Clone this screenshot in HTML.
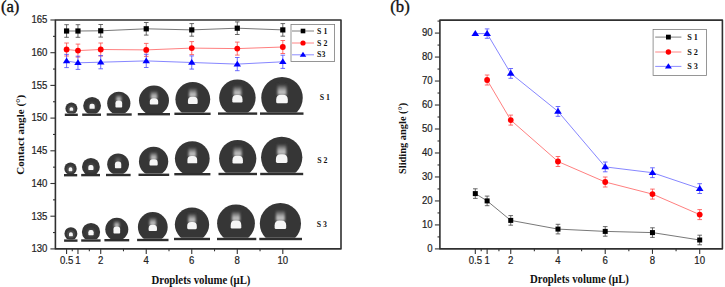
<!DOCTYPE html>
<html><head><meta charset="utf-8"><title>Contact and sliding angle</title>
<style>html,body{margin:0;padding:0;background:#fff;}body{width:725px;height:287px;overflow:hidden;}svg{display:block;}</style>
</head><body>
<svg width="725" height="287" viewBox="0 0 725 287">
<defs>
<linearGradient id="glow" x1="0" y1="1" x2="0" y2="0"><stop offset="0" stop-color="#909090"/><stop offset="0.3" stop-color="#c8c8c8"/><stop offset="0.6" stop-color="#8e8e8e"/><stop offset="1" stop-color="#363636"/></linearGradient>
<filter id="bl" x="-50%" y="-50%" width="200%" height="200%"><feGaussianBlur stdDeviation="0.9"/></filter>
<filter id="bl2" x="-50%" y="-50%" width="200%" height="200%"><feGaussianBlur stdDeviation="0.35"/></filter>
<filter id="bl3" x="-50%" y="-50%" width="200%" height="200%"><feGaussianBlur stdDeviation="0.2"/></filter>
</defs>
<rect width="725" height="287" fill="#fff"/>
<text transform="translate(0.9,12.3) scale(1.03,1.03)" font-family="'Liberation Serif', serif" font-size="16.2" fill="#111" stroke="#111" stroke-width="0.35">(a)</text>
<text transform="translate(390.3,12.3) scale(1.03,1.03)" font-family="'Liberation Serif', serif" font-size="16.2" fill="#111" stroke="#111" stroke-width="0.35">(b)</text>
<line x1="50.40" y1="248.90" x2="55.40" y2="248.90" stroke="#333" stroke-width="1.1"/>
<line x1="50.40" y1="216.20" x2="55.40" y2="216.20" stroke="#333" stroke-width="1.1"/>
<line x1="50.40" y1="183.50" x2="55.40" y2="183.50" stroke="#333" stroke-width="1.1"/>
<line x1="50.40" y1="150.80" x2="55.40" y2="150.80" stroke="#333" stroke-width="1.1"/>
<line x1="50.40" y1="118.10" x2="55.40" y2="118.10" stroke="#333" stroke-width="1.1"/>
<line x1="50.40" y1="85.40" x2="55.40" y2="85.40" stroke="#333" stroke-width="1.1"/>
<line x1="50.40" y1="52.70" x2="55.40" y2="52.70" stroke="#333" stroke-width="1.1"/>
<line x1="50.40" y1="20.00" x2="55.40" y2="20.00" stroke="#333" stroke-width="1.1"/>
<line x1="53.00" y1="232.55" x2="55.40" y2="232.55" stroke="#333" stroke-width="1.1"/>
<line x1="53.00" y1="199.85" x2="55.40" y2="199.85" stroke="#333" stroke-width="1.1"/>
<line x1="53.00" y1="167.15" x2="55.40" y2="167.15" stroke="#333" stroke-width="1.1"/>
<line x1="53.00" y1="134.45" x2="55.40" y2="134.45" stroke="#333" stroke-width="1.1"/>
<line x1="53.00" y1="101.75" x2="55.40" y2="101.75" stroke="#333" stroke-width="1.1"/>
<line x1="53.00" y1="69.05" x2="55.40" y2="69.05" stroke="#333" stroke-width="1.1"/>
<line x1="53.00" y1="36.35" x2="55.40" y2="36.35" stroke="#333" stroke-width="1.1"/>
<text transform="translate(47.40,252.25) scale(1,1.09)" text-anchor="end" font-family="'Liberation Sans', sans-serif" font-size="9.6" fill="#222" stroke="#222" stroke-width="0.18">130</text>
<text transform="translate(47.40,219.55) scale(1,1.09)" text-anchor="end" font-family="'Liberation Sans', sans-serif" font-size="9.6" fill="#222" stroke="#222" stroke-width="0.18">135</text>
<text transform="translate(47.40,186.85) scale(1,1.09)" text-anchor="end" font-family="'Liberation Sans', sans-serif" font-size="9.6" fill="#222" stroke="#222" stroke-width="0.18">140</text>
<text transform="translate(47.40,154.15) scale(1,1.09)" text-anchor="end" font-family="'Liberation Sans', sans-serif" font-size="9.6" fill="#222" stroke="#222" stroke-width="0.18">145</text>
<text transform="translate(47.40,121.45) scale(1,1.09)" text-anchor="end" font-family="'Liberation Sans', sans-serif" font-size="9.6" fill="#222" stroke="#222" stroke-width="0.18">150</text>
<text transform="translate(47.40,88.75) scale(1,1.09)" text-anchor="end" font-family="'Liberation Sans', sans-serif" font-size="9.6" fill="#222" stroke="#222" stroke-width="0.18">155</text>
<text transform="translate(47.40,56.05) scale(1,1.09)" text-anchor="end" font-family="'Liberation Sans', sans-serif" font-size="9.6" fill="#222" stroke="#222" stroke-width="0.18">160</text>
<text transform="translate(47.40,23.35) scale(1,1.09)" text-anchor="end" font-family="'Liberation Sans', sans-serif" font-size="9.6" fill="#222" stroke="#222" stroke-width="0.18">165</text>
<line x1="66.58" y1="248.90" x2="66.58" y2="253.90" stroke="#333" stroke-width="1.1"/>
<line x1="77.96" y1="248.90" x2="77.96" y2="253.90" stroke="#333" stroke-width="1.1"/>
<line x1="100.72" y1="248.90" x2="100.72" y2="253.90" stroke="#333" stroke-width="1.1"/>
<line x1="146.24" y1="248.90" x2="146.24" y2="253.90" stroke="#333" stroke-width="1.1"/>
<line x1="191.76" y1="248.90" x2="191.76" y2="253.90" stroke="#333" stroke-width="1.1"/>
<line x1="237.28" y1="248.90" x2="237.28" y2="253.90" stroke="#333" stroke-width="1.1"/>
<line x1="282.80" y1="248.90" x2="282.80" y2="253.90" stroke="#333" stroke-width="1.1"/>
<line x1="72.27" y1="248.90" x2="72.27" y2="251.30" stroke="#333" stroke-width="1.1"/>
<line x1="89.34" y1="248.90" x2="89.34" y2="251.30" stroke="#333" stroke-width="1.1"/>
<line x1="123.48" y1="248.90" x2="123.48" y2="251.30" stroke="#333" stroke-width="1.1"/>
<line x1="169.00" y1="248.90" x2="169.00" y2="251.30" stroke="#333" stroke-width="1.1"/>
<line x1="214.52" y1="248.90" x2="214.52" y2="251.30" stroke="#333" stroke-width="1.1"/>
<line x1="260.04" y1="248.90" x2="260.04" y2="251.30" stroke="#333" stroke-width="1.1"/>
<text transform="translate(66.58,264.00) scale(1,1.09)" text-anchor="middle" font-family="'Liberation Sans', sans-serif" font-size="9.6" fill="#222" stroke="#222" stroke-width="0.18">0.5</text>
<text transform="translate(77.96,264.00) scale(1,1.09)" text-anchor="middle" font-family="'Liberation Sans', sans-serif" font-size="9.6" fill="#222" stroke="#222" stroke-width="0.18">1</text>
<text transform="translate(100.72,264.00) scale(1,1.09)" text-anchor="middle" font-family="'Liberation Sans', sans-serif" font-size="9.6" fill="#222" stroke="#222" stroke-width="0.18">2</text>
<text transform="translate(146.24,264.00) scale(1,1.09)" text-anchor="middle" font-family="'Liberation Sans', sans-serif" font-size="9.6" fill="#222" stroke="#222" stroke-width="0.18">4</text>
<text transform="translate(191.76,264.00) scale(1,1.09)" text-anchor="middle" font-family="'Liberation Sans', sans-serif" font-size="9.6" fill="#222" stroke="#222" stroke-width="0.18">6</text>
<text transform="translate(237.28,264.00) scale(1,1.09)" text-anchor="middle" font-family="'Liberation Sans', sans-serif" font-size="9.6" fill="#222" stroke="#222" stroke-width="0.18">8</text>
<text transform="translate(282.80,264.00) scale(1,1.09)" text-anchor="middle" font-family="'Liberation Sans', sans-serif" font-size="9.6" fill="#222" stroke="#222" stroke-width="0.18">10</text>
<line x1="434.90" y1="248.90" x2="439.90" y2="248.90" stroke="#333" stroke-width="1.1"/>
<line x1="434.90" y1="224.92" x2="439.90" y2="224.92" stroke="#333" stroke-width="1.1"/>
<line x1="434.90" y1="200.94" x2="439.90" y2="200.94" stroke="#333" stroke-width="1.1"/>
<line x1="434.90" y1="176.96" x2="439.90" y2="176.96" stroke="#333" stroke-width="1.1"/>
<line x1="434.90" y1="152.98" x2="439.90" y2="152.98" stroke="#333" stroke-width="1.1"/>
<line x1="434.90" y1="129.00" x2="439.90" y2="129.00" stroke="#333" stroke-width="1.1"/>
<line x1="434.90" y1="105.02" x2="439.90" y2="105.02" stroke="#333" stroke-width="1.1"/>
<line x1="434.90" y1="81.04" x2="439.90" y2="81.04" stroke="#333" stroke-width="1.1"/>
<line x1="434.90" y1="57.06" x2="439.90" y2="57.06" stroke="#333" stroke-width="1.1"/>
<line x1="434.90" y1="33.08" x2="439.90" y2="33.08" stroke="#333" stroke-width="1.1"/>
<line x1="437.50" y1="236.91" x2="439.90" y2="236.91" stroke="#333" stroke-width="1.1"/>
<line x1="437.50" y1="212.93" x2="439.90" y2="212.93" stroke="#333" stroke-width="1.1"/>
<line x1="437.50" y1="188.95" x2="439.90" y2="188.95" stroke="#333" stroke-width="1.1"/>
<line x1="437.50" y1="164.97" x2="439.90" y2="164.97" stroke="#333" stroke-width="1.1"/>
<line x1="437.50" y1="140.99" x2="439.90" y2="140.99" stroke="#333" stroke-width="1.1"/>
<line x1="437.50" y1="117.01" x2="439.90" y2="117.01" stroke="#333" stroke-width="1.1"/>
<line x1="437.50" y1="93.03" x2="439.90" y2="93.03" stroke="#333" stroke-width="1.1"/>
<line x1="437.50" y1="69.05" x2="439.90" y2="69.05" stroke="#333" stroke-width="1.1"/>
<line x1="437.50" y1="45.07" x2="439.90" y2="45.07" stroke="#333" stroke-width="1.1"/>
<line x1="437.50" y1="21.09" x2="439.90" y2="21.09" stroke="#333" stroke-width="1.1"/>
<text transform="translate(432.60,252.25) scale(1,1.09)" text-anchor="end" font-family="'Liberation Sans', sans-serif" font-size="9.6" fill="#222" stroke="#222" stroke-width="0.18">0</text>
<text transform="translate(432.60,228.27) scale(1,1.09)" text-anchor="end" font-family="'Liberation Sans', sans-serif" font-size="9.6" fill="#222" stroke="#222" stroke-width="0.18">10</text>
<text transform="translate(432.60,204.29) scale(1,1.09)" text-anchor="end" font-family="'Liberation Sans', sans-serif" font-size="9.6" fill="#222" stroke="#222" stroke-width="0.18">20</text>
<text transform="translate(432.60,180.31) scale(1,1.09)" text-anchor="end" font-family="'Liberation Sans', sans-serif" font-size="9.6" fill="#222" stroke="#222" stroke-width="0.18">30</text>
<text transform="translate(432.60,156.33) scale(1,1.09)" text-anchor="end" font-family="'Liberation Sans', sans-serif" font-size="9.6" fill="#222" stroke="#222" stroke-width="0.18">40</text>
<text transform="translate(432.60,132.35) scale(1,1.09)" text-anchor="end" font-family="'Liberation Sans', sans-serif" font-size="9.6" fill="#222" stroke="#222" stroke-width="0.18">50</text>
<text transform="translate(432.60,108.37) scale(1,1.09)" text-anchor="end" font-family="'Liberation Sans', sans-serif" font-size="9.6" fill="#222" stroke="#222" stroke-width="0.18">60</text>
<text transform="translate(432.60,84.39) scale(1,1.09)" text-anchor="end" font-family="'Liberation Sans', sans-serif" font-size="9.6" fill="#222" stroke="#222" stroke-width="0.18">70</text>
<text transform="translate(432.60,60.41) scale(1,1.09)" text-anchor="end" font-family="'Liberation Sans', sans-serif" font-size="9.6" fill="#222" stroke="#222" stroke-width="0.18">80</text>
<text transform="translate(432.60,36.43) scale(1,1.09)" text-anchor="end" font-family="'Liberation Sans', sans-serif" font-size="9.6" fill="#222" stroke="#222" stroke-width="0.18">90</text>
<line x1="475.31" y1="248.90" x2="475.31" y2="253.90" stroke="#333" stroke-width="1.1"/>
<line x1="487.12" y1="248.90" x2="487.12" y2="253.90" stroke="#333" stroke-width="1.1"/>
<line x1="510.74" y1="248.90" x2="510.74" y2="253.90" stroke="#333" stroke-width="1.1"/>
<line x1="557.98" y1="248.90" x2="557.98" y2="253.90" stroke="#333" stroke-width="1.1"/>
<line x1="605.22" y1="248.90" x2="605.22" y2="253.90" stroke="#333" stroke-width="1.1"/>
<line x1="652.46" y1="248.90" x2="652.46" y2="253.90" stroke="#333" stroke-width="1.1"/>
<line x1="699.70" y1="248.90" x2="699.70" y2="253.90" stroke="#333" stroke-width="1.1"/>
<line x1="481.21" y1="248.90" x2="481.21" y2="251.30" stroke="#333" stroke-width="1.1"/>
<line x1="498.93" y1="248.90" x2="498.93" y2="251.30" stroke="#333" stroke-width="1.1"/>
<line x1="534.36" y1="248.90" x2="534.36" y2="251.30" stroke="#333" stroke-width="1.1"/>
<line x1="581.60" y1="248.90" x2="581.60" y2="251.30" stroke="#333" stroke-width="1.1"/>
<line x1="628.84" y1="248.90" x2="628.84" y2="251.30" stroke="#333" stroke-width="1.1"/>
<line x1="676.08" y1="248.90" x2="676.08" y2="251.30" stroke="#333" stroke-width="1.1"/>
<text transform="translate(475.31,264.00) scale(1,1.09)" text-anchor="middle" font-family="'Liberation Sans', sans-serif" font-size="9.6" fill="#222" stroke="#222" stroke-width="0.18">0.5</text>
<text transform="translate(487.12,264.00) scale(1,1.09)" text-anchor="middle" font-family="'Liberation Sans', sans-serif" font-size="9.6" fill="#222" stroke="#222" stroke-width="0.18">1</text>
<text transform="translate(510.74,264.00) scale(1,1.09)" text-anchor="middle" font-family="'Liberation Sans', sans-serif" font-size="9.6" fill="#222" stroke="#222" stroke-width="0.18">2</text>
<text transform="translate(557.98,264.00) scale(1,1.09)" text-anchor="middle" font-family="'Liberation Sans', sans-serif" font-size="9.6" fill="#222" stroke="#222" stroke-width="0.18">4</text>
<text transform="translate(605.22,264.00) scale(1,1.09)" text-anchor="middle" font-family="'Liberation Sans', sans-serif" font-size="9.6" fill="#222" stroke="#222" stroke-width="0.18">6</text>
<text transform="translate(652.46,264.00) scale(1,1.09)" text-anchor="middle" font-family="'Liberation Sans', sans-serif" font-size="9.6" fill="#222" stroke="#222" stroke-width="0.18">8</text>
<text transform="translate(699.70,264.00) scale(1,1.09)" text-anchor="middle" font-family="'Liberation Sans', sans-serif" font-size="9.6" fill="#222" stroke="#222" stroke-width="0.18">10</text>
<clipPath id="c1"><rect x="64.40" y="101.40" width="14.00" height="12.20"/></clipPath>
<g clip-path="url(#c1)"><circle cx="71.40" cy="108.40" r="6.00" fill="#363636"/>
<circle cx="71.40" cy="109.00" r="3.72" fill="#4a4a4a" filter="url(#bl2)"/>
<path d="M69.60 110.32 V108.76 Q69.60 107.14 71.22 107.14 H71.58 Q73.20 107.14 73.20 108.76 V110.32 Q73.20 110.86 72.66 110.86 H70.14 Q69.60 110.86 69.60 110.32 Z" fill="#f4f4f4"/>
</g>
<rect x="64.80" y="113.60" width="13.00" height="2.4" fill="#2e2e2e"/>
<clipPath id="c2"><rect x="82.20" y="95.90" width="19.80" height="17.60"/></clipPath>
<g clip-path="url(#c2)"><circle cx="92.10" cy="105.80" r="8.90" fill="#363636"/>
<circle cx="92.10" cy="106.33" r="3.87" fill="#4a4a4a" filter="url(#bl)"/>
<path d="M89.52 108.21 V106.01 Q89.52 103.84 91.69 103.84 H92.51 Q94.68 103.84 94.68 106.01 V108.21 Q94.68 108.83 94.06 108.83 H90.14 Q89.52 108.83 89.52 108.21 Z" fill="#f6f6f6" filter="url(#bl2)"/>
</g>
<rect x="82.20" y="113.50" width="18.80" height="2.4" fill="#2e2e2e"/>
<clipPath id="c3"><rect x="106.20" y="90.70" width="25.20" height="22.60"/></clipPath>
<g clip-path="url(#c3)"><circle cx="118.80" cy="103.30" r="11.60" fill="#363636"/>
<rect x="116.18" y="94.60" width="5.25" height="6.80" fill="url(#glow)" filter="url(#bl)" opacity="1.0"/>
<path d="M115.44 106.78 V103.23 Q115.44 100.40 118.26 100.40 H119.34 Q122.16 100.40 122.16 103.23 V106.78 Q122.16 107.59 121.36 107.59 H116.24 Q115.44 107.59 115.44 106.78 Z" fill="#f6f6f6" filter="url(#bl2)"/>
</g>
<rect x="106.70" y="113.30" width="25.00" height="2.4" fill="#2e2e2e"/>
<clipPath id="c4"><rect x="138.00" y="84.50" width="32.00" height="28.50"/></clipPath>
<g clip-path="url(#c4)"><circle cx="154.00" cy="100.50" r="15.00" fill="#363636"/>
<rect x="150.72" y="90.75" width="6.55" height="8.50" fill="url(#glow)" filter="url(#bl)" opacity="1.0"/>
<path d="M149.80 103.54 V101.78 Q149.80 98.25 153.33 98.25 H154.67 Q158.20 98.25 158.20 101.78 V103.54 Q158.20 104.55 157.19 104.55 H150.81 Q149.80 104.55 149.80 103.54 Z" fill="#f6f6f6" filter="url(#bl2)"/>
</g>
<rect x="137.80" y="113.00" width="32.20" height="2.4" fill="#2e2e2e"/>
<clipPath id="c5"><rect x="174.40" y="80.90" width="36.80" height="31.70"/></clipPath>
<g clip-path="url(#c5)"><circle cx="192.80" cy="99.30" r="17.40" fill="#363636"/>
<rect x="189.00" y="87.99" width="7.60" height="9.70" fill="url(#glow)" filter="url(#bl)" opacity="1.0"/>
<path d="M187.93 102.83 V100.78 Q187.93 96.69 192.02 96.69 H193.58 Q197.67 96.69 197.67 100.78 V102.83 Q197.67 104.00 196.50 104.00 H189.10 Q187.93 104.00 187.93 102.83 Z" fill="#f6f6f6" filter="url(#bl2)"/>
</g>
<rect x="174.40" y="112.60" width="36.20" height="2.4" fill="#2e2e2e"/>
<clipPath id="c6"><rect x="218.15" y="78.40" width="38.50" height="34.00"/></clipPath>
<g clip-path="url(#c6)"><circle cx="237.40" cy="97.65" r="18.25" fill="#363636"/>
<rect x="233.41" y="85.79" width="7.97" height="10.12" fill="url(#glow)" filter="url(#bl)" opacity="1.0"/>
<path d="M232.29 101.35 V99.20 Q232.29 94.91 236.58 94.91 H238.22 Q242.51 94.91 242.51 99.20 V101.35 Q242.51 102.58 241.28 102.58 H233.52 Q232.29 102.58 232.29 101.35 Z" fill="#f6f6f6" filter="url(#bl2)"/>
</g>
<rect x="218.00" y="112.40" width="39.20" height="2.4" fill="#2e2e2e"/>
<clipPath id="c7"><rect x="260.25" y="76.00" width="43.50" height="36.40"/></clipPath>
<g clip-path="url(#c7)"><circle cx="282.00" cy="97.75" r="20.75" fill="#363636"/>
<rect x="277.47" y="84.26" width="9.06" height="11.38" fill="url(#glow)" filter="url(#bl)" opacity="1.0"/>
<path d="M276.19 101.96 V99.52 Q276.19 94.64 281.07 94.64 H282.93 Q287.81 94.64 287.81 99.52 V101.96 Q287.81 103.35 286.42 103.35 H277.58 Q276.19 103.35 276.19 101.96 Z" fill="#f6f6f6" filter="url(#bl2)"/>
</g>
<rect x="260.00" y="112.40" width="43.50" height="2.4" fill="#2e2e2e"/>
<clipPath id="c8"><rect x="63.35" y="161.50" width="14.30" height="12.50"/></clipPath>
<g clip-path="url(#c8)"><circle cx="70.50" cy="168.65" r="6.15" fill="#363636"/>
<circle cx="70.50" cy="169.25" r="3.81" fill="#4a4a4a" filter="url(#bl2)"/>
<path d="M68.66 170.60 V169.00 Q68.66 167.34 70.32 167.34 H70.68 Q72.34 167.34 72.34 169.00 V170.60 Q72.34 171.16 71.79 171.16 H69.21 Q68.66 171.16 68.66 170.60 Z" fill="#f4f4f4"/>
</g>
<rect x="64.00" y="174.00" width="13.20" height="2.4" fill="#2e2e2e"/>
<clipPath id="c9"><rect x="81.00" y="157.00" width="19.80" height="16.90"/></clipPath>
<g clip-path="url(#c9)"><circle cx="90.90" cy="166.90" r="8.90" fill="#363636"/>
<circle cx="90.90" cy="167.43" r="3.87" fill="#4a4a4a" filter="url(#bl)"/>
<path d="M88.32 169.31 V167.11 Q88.32 164.94 90.49 164.94 H91.31 Q93.48 164.94 93.48 167.11 V169.31 Q93.48 169.93 92.86 169.93 H88.94 Q88.32 169.93 88.32 169.31 Z" fill="#f6f6f6" filter="url(#bl2)"/>
</g>
<rect x="81.20" y="173.90" width="18.80" height="2.4" fill="#2e2e2e"/>
<clipPath id="c10"><rect x="106.20" y="152.40" width="23.80" height="21.40"/></clipPath>
<g clip-path="url(#c10)"><circle cx="118.10" cy="164.30" r="10.90" fill="#363636"/>
<rect x="115.63" y="156.13" width="4.93" height="6.45" fill="url(#glow)" filter="url(#bl)" opacity="0.35"/>
<path d="M114.94 167.57 V164.23 Q114.94 161.58 117.59 161.58 H118.61 Q121.26 161.58 121.26 164.23 V167.57 Q121.26 168.33 120.50 168.33 H115.70 Q114.94 168.33 114.94 167.57 Z" fill="#f6f6f6" filter="url(#bl2)"/>
</g>
<rect x="106.00" y="173.80" width="24.60" height="2.4" fill="#2e2e2e"/>
<clipPath id="c11"><rect x="137.95" y="145.80" width="31.30" height="27.80"/></clipPath>
<g clip-path="url(#c11)"><circle cx="153.60" cy="161.45" r="14.65" fill="#363636"/>
<rect x="150.40" y="151.93" width="6.40" height="8.32" fill="url(#glow)" filter="url(#bl)" opacity="1.0"/>
<path d="M149.50 164.42 V162.70 Q149.50 159.25 152.94 159.25 H154.26 Q157.70 159.25 157.70 162.70 V164.42 Q157.70 165.41 156.72 165.41 H150.48 Q149.50 165.41 149.50 164.42 Z" fill="#f6f6f6" filter="url(#bl2)"/>
</g>
<rect x="138.50" y="173.60" width="30.70" height="2.4" fill="#2e2e2e"/>
<clipPath id="c12"><rect x="173.90" y="140.20" width="36.80" height="32.80"/></clipPath>
<g clip-path="url(#c12)"><circle cx="192.30" cy="158.60" r="17.40" fill="#363636"/>
<rect x="188.50" y="147.29" width="7.60" height="9.70" fill="url(#glow)" filter="url(#bl)" opacity="1.0"/>
<path d="M187.43 162.13 V160.08 Q187.43 155.99 191.52 155.99 H193.08 Q197.17 155.99 197.17 160.08 V162.13 Q197.17 163.30 196.00 163.30 H188.60 Q187.43 163.30 187.43 162.13 Z" fill="#f6f6f6" filter="url(#bl2)"/>
</g>
<rect x="174.30" y="173.00" width="36.10" height="2.4" fill="#2e2e2e"/>
<clipPath id="c13"><rect x="218.05" y="138.90" width="39.30" height="33.90"/></clipPath>
<g clip-path="url(#c13)"><circle cx="237.70" cy="158.55" r="18.65" fill="#363636"/>
<rect x="233.63" y="146.43" width="8.15" height="10.32" fill="url(#glow)" filter="url(#bl)" opacity="1.0"/>
<path d="M232.48 162.33 V160.14 Q232.48 155.75 236.86 155.75 H238.54 Q242.92 155.75 242.92 160.14 V162.33 Q242.92 163.59 241.67 163.59 H233.73 Q232.48 163.59 232.48 162.33 Z" fill="#f6f6f6" filter="url(#bl2)"/>
</g>
<rect x="218.50" y="172.80" width="38.50" height="2.4" fill="#2e2e2e"/>
<clipPath id="c14"><rect x="260.05" y="135.70" width="43.30" height="37.10"/></clipPath>
<g clip-path="url(#c14)"><circle cx="281.70" cy="157.35" r="20.65" fill="#363636"/>
<rect x="277.19" y="143.93" width="9.02" height="11.32" fill="url(#glow)" filter="url(#bl)" opacity="1.0"/>
<path d="M275.92 161.54 V159.11 Q275.92 154.25 280.77 154.25 H282.63 Q287.48 154.25 287.48 159.11 V161.54 Q287.48 162.93 286.09 162.93 H277.31 Q275.92 162.93 275.92 161.54 Z" fill="#f6f6f6" filter="url(#bl2)"/>
</g>
<rect x="260.20" y="172.80" width="43.00" height="2.4" fill="#2e2e2e"/>
<clipPath id="c15"><rect x="63.45" y="226.20" width="14.90" height="13.20"/></clipPath>
<g clip-path="url(#c15)"><circle cx="70.90" cy="233.65" r="6.45" fill="#363636"/>
<circle cx="70.90" cy="234.25" r="4.00" fill="#4a4a4a" filter="url(#bl2)"/>
<path d="M68.97 235.67 V233.99 Q68.97 232.25 70.71 232.25 H71.09 Q72.84 232.25 72.84 233.99 V235.67 Q72.84 236.25 72.25 236.25 H69.55 Q68.97 236.25 68.97 235.67 Z" fill="#f4f4f4"/>
</g>
<rect x="64.10" y="239.40" width="13.40" height="2.4" fill="#2e2e2e"/>
<clipPath id="c16"><rect x="80.85" y="221.90" width="20.30" height="17.40"/></clipPath>
<g clip-path="url(#c16)"><circle cx="91.00" cy="232.05" r="9.15" fill="#363636"/>
<circle cx="91.00" cy="232.60" r="3.98" fill="#4a4a4a" filter="url(#bl)"/>
<path d="M88.35 234.52 V232.27 Q88.35 230.04 90.58 230.04 H91.42 Q93.65 230.04 93.65 232.27 V234.52 Q93.65 235.16 93.02 235.16 H88.98 Q88.35 235.16 88.35 234.52 Z" fill="#f6f6f6" filter="url(#bl2)"/>
</g>
<rect x="81.20" y="239.30" width="19.40" height="2.4" fill="#2e2e2e"/>
<clipPath id="c17"><rect x="104.30" y="216.80" width="25.00" height="22.20"/></clipPath>
<g clip-path="url(#c17)"><circle cx="116.80" cy="229.30" r="11.50" fill="#363636"/>
<rect x="114.20" y="220.68" width="5.20" height="6.75" fill="url(#glow)" filter="url(#bl)" opacity="1.0"/>
<path d="M113.47 232.75 V229.23 Q113.47 226.43 116.27 226.43 H117.33 Q120.14 226.43 120.14 229.23 V232.75 Q120.14 233.56 119.33 233.56 H114.27 Q113.47 233.56 113.47 232.75 Z" fill="#f6f6f6" filter="url(#bl2)"/>
</g>
<rect x="104.40" y="239.00" width="24.80" height="2.4" fill="#2e2e2e"/>
<clipPath id="c18"><rect x="136.90" y="211.10" width="31.80" height="27.70"/></clipPath>
<g clip-path="url(#c18)"><circle cx="152.80" cy="227.00" r="14.90" fill="#363636"/>
<rect x="149.55" y="217.32" width="6.51" height="8.45" fill="url(#glow)" filter="url(#bl)" opacity="1.0"/>
<path d="M148.63 230.02 V228.27 Q148.63 224.77 152.13 224.77 H153.47 Q156.97 224.77 156.97 228.27 V230.02 Q156.97 231.02 155.97 231.02 H149.63 Q148.63 231.02 148.63 230.02 Z" fill="#f6f6f6" filter="url(#bl2)"/>
</g>
<rect x="137.10" y="238.80" width="31.40" height="2.4" fill="#2e2e2e"/>
<clipPath id="c19"><rect x="173.85" y="206.40" width="36.30" height="31.40"/></clipPath>
<g clip-path="url(#c19)"><circle cx="192.00" cy="224.55" r="17.15" fill="#363636"/>
<rect x="188.25" y="213.40" width="7.49" height="9.57" fill="url(#glow)" filter="url(#bl)" opacity="1.0"/>
<path d="M187.20 228.03 V226.01 Q187.20 221.98 191.23 221.98 H192.77 Q196.80 221.98 196.80 226.01 V228.03 Q196.80 229.18 195.65 229.18 H188.35 Q187.20 229.18 187.20 228.03 Z" fill="#f6f6f6" filter="url(#bl2)"/>
</g>
<rect x="174.00" y="237.80" width="36.00" height="2.4" fill="#2e2e2e"/>
<clipPath id="c20"><rect x="216.10" y="203.40" width="39.80" height="34.40"/></clipPath>
<g clip-path="url(#c20)"><circle cx="236.00" cy="223.30" r="18.90" fill="#363636"/>
<rect x="231.87" y="211.02" width="8.26" height="10.45" fill="url(#glow)" filter="url(#bl)" opacity="1.0"/>
<path d="M230.71 227.13 V224.91 Q230.71 220.47 235.15 220.47 H236.85 Q241.29 220.47 241.29 224.91 V227.13 Q241.29 228.40 240.02 228.40 H231.98 Q230.71 228.40 230.71 227.13 Z" fill="#f6f6f6" filter="url(#bl2)"/>
</g>
<rect x="217.00" y="237.80" width="39.30" height="2.4" fill="#2e2e2e"/>
<clipPath id="c21"><rect x="258.80" y="201.90" width="43.20" height="35.90"/></clipPath>
<g clip-path="url(#c21)"><circle cx="280.40" cy="223.50" r="20.60" fill="#363636"/>
<rect x="275.90" y="210.11" width="9.00" height="11.30" fill="url(#glow)" filter="url(#bl)" opacity="1.0"/>
<path d="M274.63 227.68 V225.26 Q274.63 220.41 279.48 220.41 H281.32 Q286.17 220.41 286.17 225.26 V227.68 Q286.17 229.06 284.78 229.06 H276.02 Q274.63 229.06 274.63 227.68 Z" fill="#f6f6f6" filter="url(#bl2)"/>
</g>
<rect x="259.30" y="237.80" width="42.70" height="2.4" fill="#2e2e2e"/>
<text x="319.7" y="99.60" font-family="'Liberation Serif', serif" font-weight="bold" font-size="7.8" fill="#111">S 1</text>
<text x="317.2" y="162.80" font-family="'Liberation Serif', serif" font-weight="bold" font-size="7.8" fill="#111">S 2</text>
<text x="316.8" y="226.70" font-family="'Liberation Serif', serif" font-weight="bold" font-size="7.8" fill="#111">S 3</text>
<polyline points="66.58,31.00 77.96,31.00 100.72,30.80 146.24,28.80 191.76,29.90 237.28,28.20 282.80,29.90" fill="none" stroke="#606060" stroke-width="0.85"/>
<path d="M66.58 24.70 V37.30 M64.28 24.70 H68.88 M64.28 37.30 H68.88" stroke="#444" stroke-width="0.8" fill="none"/>
<path d="M77.96 24.70 V37.30 M75.66 24.70 H80.26 M75.66 37.30 H80.26" stroke="#444" stroke-width="0.8" fill="none"/>
<path d="M100.72 24.50 V37.10 M98.42 24.50 H103.02 M98.42 37.10 H103.02" stroke="#444" stroke-width="0.8" fill="none"/>
<path d="M146.24 22.50 V35.10 M143.94 22.50 H148.54 M143.94 35.10 H148.54" stroke="#444" stroke-width="0.8" fill="none"/>
<path d="M191.76 23.60 V36.20 M189.46 23.60 H194.06 M189.46 36.20 H194.06" stroke="#444" stroke-width="0.8" fill="none"/>
<path d="M237.28 21.90 V34.50 M234.98 21.90 H239.58 M234.98 34.50 H239.58" stroke="#444" stroke-width="0.8" fill="none"/>
<path d="M282.80 23.60 V36.20 M280.50 23.60 H285.10 M280.50 36.20 H285.10" stroke="#444" stroke-width="0.8" fill="none"/>
<rect x="63.98" y="28.40" width="5.20" height="5.20" fill="#000"/>
<rect x="75.36" y="28.40" width="5.20" height="5.20" fill="#000"/>
<rect x="98.12" y="28.20" width="5.20" height="5.20" fill="#000"/>
<rect x="143.64" y="26.20" width="5.20" height="5.20" fill="#000"/>
<rect x="189.16" y="27.30" width="5.20" height="5.20" fill="#000"/>
<rect x="234.68" y="25.60" width="5.20" height="5.20" fill="#000"/>
<rect x="280.20" y="27.30" width="5.20" height="5.20" fill="#000"/>
<polyline points="66.58,49.50 77.96,50.60 100.72,49.50 146.24,49.90 191.76,48.10 237.28,48.60 282.80,47.00" fill="none" stroke="#ff6868" stroke-width="0.85"/>
<path d="M66.58 43.00 V56.00 M64.28 43.00 H68.88 M64.28 56.00 H68.88" stroke="#ff4a4a" stroke-width="0.8" fill="none"/>
<path d="M77.96 44.10 V57.10 M75.66 44.10 H80.26 M75.66 57.10 H80.26" stroke="#ff4a4a" stroke-width="0.8" fill="none"/>
<path d="M100.72 43.00 V56.00 M98.42 43.00 H103.02 M98.42 56.00 H103.02" stroke="#ff4a4a" stroke-width="0.8" fill="none"/>
<path d="M146.24 43.40 V56.40 M143.94 43.40 H148.54 M143.94 56.40 H148.54" stroke="#ff4a4a" stroke-width="0.8" fill="none"/>
<path d="M191.76 41.60 V54.60 M189.46 41.60 H194.06 M189.46 54.60 H194.06" stroke="#ff4a4a" stroke-width="0.8" fill="none"/>
<path d="M237.28 42.10 V55.10 M234.98 42.10 H239.58 M234.98 55.10 H239.58" stroke="#ff4a4a" stroke-width="0.8" fill="none"/>
<path d="M282.80 40.50 V53.50 M280.50 40.50 H285.10 M280.50 53.50 H285.10" stroke="#ff4a4a" stroke-width="0.8" fill="none"/>
<circle cx="66.58" cy="49.50" r="2.90" fill="#ff0000"/>
<circle cx="77.96" cy="50.60" r="2.90" fill="#ff0000"/>
<circle cx="100.72" cy="49.50" r="2.90" fill="#ff0000"/>
<circle cx="146.24" cy="49.90" r="2.90" fill="#ff0000"/>
<circle cx="191.76" cy="48.10" r="2.90" fill="#ff0000"/>
<circle cx="237.28" cy="48.60" r="2.90" fill="#ff0000"/>
<circle cx="282.80" cy="47.00" r="2.90" fill="#ff0000"/>
<polyline points="66.58,61.00 77.96,62.80 100.72,62.20 146.24,60.90 191.76,62.50 237.28,64.10 282.80,61.80" fill="none" stroke="#7070ff" stroke-width="0.85"/>
<path d="M66.58 54.40 V67.60 M64.28 54.40 H68.88 M64.28 67.60 H68.88" stroke="#4a4aff" stroke-width="0.8" fill="none"/>
<path d="M77.96 56.20 V69.40 M75.66 56.20 H80.26 M75.66 69.40 H80.26" stroke="#4a4aff" stroke-width="0.8" fill="none"/>
<path d="M100.72 55.60 V68.80 M98.42 55.60 H103.02 M98.42 68.80 H103.02" stroke="#4a4aff" stroke-width="0.8" fill="none"/>
<path d="M146.24 54.30 V67.50 M143.94 54.30 H148.54 M143.94 67.50 H148.54" stroke="#4a4aff" stroke-width="0.8" fill="none"/>
<path d="M191.76 55.90 V69.10 M189.46 55.90 H194.06 M189.46 69.10 H194.06" stroke="#4a4aff" stroke-width="0.8" fill="none"/>
<path d="M237.28 57.50 V70.70 M234.98 57.50 H239.58 M234.98 70.70 H239.58" stroke="#4a4aff" stroke-width="0.8" fill="none"/>
<path d="M282.80 55.20 V68.40 M280.50 55.20 H285.10 M280.50 68.40 H285.10" stroke="#4a4aff" stroke-width="0.8" fill="none"/>
<path d="M66.58 57.54 L70.29 63.30 L62.87 63.30 Z" fill="#0000ff"/>
<path d="M77.96 59.34 L81.67 65.10 L74.25 65.10 Z" fill="#0000ff"/>
<path d="M100.72 58.74 L104.43 64.50 L97.01 64.50 Z" fill="#0000ff"/>
<path d="M146.24 57.44 L149.95 63.20 L142.53 63.20 Z" fill="#0000ff"/>
<path d="M191.76 59.04 L195.47 64.80 L188.05 64.80 Z" fill="#0000ff"/>
<path d="M237.28 60.64 L240.99 66.40 L233.57 66.40 Z" fill="#0000ff"/>
<path d="M282.80 58.34 L286.51 64.10 L279.09 64.10 Z" fill="#0000ff"/>
<polyline points="475.31,193.60 487.12,200.90 510.74,220.40 557.98,229.10 605.22,231.40 652.46,232.60 699.70,240.00" fill="none" stroke="#606060" stroke-width="0.85"/>
<path d="M475.31 188.80 V198.40 M473.01 188.80 H477.61 M473.01 198.40 H477.61" stroke="#444" stroke-width="0.8" fill="none"/>
<path d="M487.12 196.10 V205.70 M484.82 196.10 H489.42 M484.82 205.70 H489.42" stroke="#444" stroke-width="0.8" fill="none"/>
<path d="M510.74 215.60 V225.20 M508.44 215.60 H513.04 M508.44 225.20 H513.04" stroke="#444" stroke-width="0.8" fill="none"/>
<path d="M557.98 224.30 V233.90 M555.68 224.30 H560.28 M555.68 233.90 H560.28" stroke="#444" stroke-width="0.8" fill="none"/>
<path d="M605.22 226.60 V236.20 M602.92 226.60 H607.52 M602.92 236.20 H607.52" stroke="#444" stroke-width="0.8" fill="none"/>
<path d="M652.46 227.80 V237.40 M650.16 227.80 H654.76 M650.16 237.40 H654.76" stroke="#444" stroke-width="0.8" fill="none"/>
<path d="M699.70 235.20 V244.80 M697.40 235.20 H702.00 M697.40 244.80 H702.00" stroke="#444" stroke-width="0.8" fill="none"/>
<rect x="472.81" y="191.10" width="5.00" height="5.00" fill="#000"/>
<rect x="484.62" y="198.40" width="5.00" height="5.00" fill="#000"/>
<rect x="508.24" y="217.90" width="5.00" height="5.00" fill="#000"/>
<rect x="555.48" y="226.60" width="5.00" height="5.00" fill="#000"/>
<rect x="602.72" y="228.90" width="5.00" height="5.00" fill="#000"/>
<rect x="649.96" y="230.10" width="5.00" height="5.00" fill="#000"/>
<rect x="697.20" y="237.50" width="5.00" height="5.00" fill="#000"/>
<polyline points="487.12,80.00 510.74,120.10 557.98,161.50 605.22,182.00 652.46,194.10 699.70,214.60" fill="none" stroke="#ff6868" stroke-width="0.85"/>
<path d="M487.12 75.00 V85.00 M484.82 75.00 H489.42 M484.82 85.00 H489.42" stroke="#ff4a4a" stroke-width="0.8" fill="none"/>
<path d="M510.74 115.10 V125.10 M508.44 115.10 H513.04 M508.44 125.10 H513.04" stroke="#ff4a4a" stroke-width="0.8" fill="none"/>
<path d="M557.98 156.50 V166.50 M555.68 156.50 H560.28 M555.68 166.50 H560.28" stroke="#ff4a4a" stroke-width="0.8" fill="none"/>
<path d="M605.22 177.00 V187.00 M602.92 177.00 H607.52 M602.92 187.00 H607.52" stroke="#ff4a4a" stroke-width="0.8" fill="none"/>
<path d="M652.46 189.10 V199.10 M650.16 189.10 H654.76 M650.16 199.10 H654.76" stroke="#ff4a4a" stroke-width="0.8" fill="none"/>
<path d="M699.70 209.60 V219.60 M697.40 209.60 H702.00 M697.40 219.60 H702.00" stroke="#ff4a4a" stroke-width="0.8" fill="none"/>
<circle cx="487.12" cy="80.00" r="2.90" fill="#ff0000"/>
<circle cx="510.74" cy="120.10" r="2.90" fill="#ff0000"/>
<circle cx="557.98" cy="161.50" r="2.90" fill="#ff0000"/>
<circle cx="605.22" cy="182.00" r="2.90" fill="#ff0000"/>
<circle cx="652.46" cy="194.10" r="2.90" fill="#ff0000"/>
<circle cx="699.70" cy="214.60" r="2.90" fill="#ff0000"/>
<polyline points="475.31,33.60 487.12,33.60 510.74,73.40 557.98,111.40 605.22,166.90 652.46,172.70 699.70,188.60" fill="none" stroke="#7070ff" stroke-width="0.85"/>
<path d="M487.12 28.90 V38.30 M484.82 28.90 H489.42 M484.82 38.30 H489.42" stroke="#4a4aff" stroke-width="0.8" fill="none"/>
<path d="M510.74 68.50 V78.30 M508.44 68.50 H513.04 M508.44 78.30 H513.04" stroke="#4a4aff" stroke-width="0.8" fill="none"/>
<path d="M557.98 106.50 V116.30 M555.68 106.50 H560.28 M555.68 116.30 H560.28" stroke="#4a4aff" stroke-width="0.8" fill="none"/>
<path d="M605.22 162.00 V171.80 M602.92 162.00 H607.52 M602.92 171.80 H607.52" stroke="#4a4aff" stroke-width="0.8" fill="none"/>
<path d="M652.46 167.80 V177.60 M650.16 167.80 H654.76 M650.16 177.60 H654.76" stroke="#4a4aff" stroke-width="0.8" fill="none"/>
<path d="M699.70 183.70 V193.50 M697.40 183.70 H702.00 M697.40 193.50 H702.00" stroke="#4a4aff" stroke-width="0.8" fill="none"/>
<path d="M475.31 30.04 L479.14 35.98 L471.48 35.98 Z" fill="#0000ff"/>
<path d="M487.12 30.04 L490.95 35.98 L483.29 35.98 Z" fill="#0000ff"/>
<path d="M510.74 69.84 L514.57 75.78 L506.91 75.78 Z" fill="#0000ff"/>
<path d="M557.98 107.84 L561.81 113.78 L554.15 113.78 Z" fill="#0000ff"/>
<path d="M605.22 163.34 L609.05 169.28 L601.39 169.28 Z" fill="#0000ff"/>
<path d="M652.46 169.14 L656.29 175.08 L648.63 175.08 Z" fill="#0000ff"/>
<path d="M699.70 185.04 L703.53 190.98 L695.87 190.98 Z" fill="#0000ff"/>
<rect x="55.40" y="20.00" width="285.60" height="228.90" fill="none" stroke="#303030" stroke-width="1.6" stroke-linejoin="round"/>
<rect x="439.90" y="20.10" width="282.50" height="228.80" fill="none" stroke="#303030" stroke-width="1.6" stroke-linejoin="round"/>
<rect x="291.00" y="24.40" width="43.60" height="37.10" fill="#fff" stroke="#7c7c7c" stroke-width="0.8"/>
<line x1="292.00" y1="31.00" x2="314.00" y2="31.00" stroke="#606060" stroke-width="0.8"/>
<rect x="300.70" y="28.70" width="4.60" height="4.60" fill="#000"/>
<text x="317.10" y="33.60" font-family="'Liberation Serif', serif" font-weight="bold" font-size="7.8" fill="#111">S 1</text>
<line x1="292.00" y1="43.00" x2="314.00" y2="43.00" stroke="#ff6868" stroke-width="0.8"/>
<circle cx="303.00" cy="43.00" r="2.60" fill="#ff0000"/>
<text x="317.10" y="45.60" font-family="'Liberation Serif', serif" font-weight="bold" font-size="7.8" fill="#111">S 2</text>
<line x1="292.00" y1="54.80" x2="314.00" y2="54.80" stroke="#7070ff" stroke-width="0.8"/>
<path d="M303.00 51.78 L306.25 56.82 L299.75 56.82 Z" fill="#0000ff"/>
<text x="317.10" y="57.40" font-family="'Liberation Serif', serif" font-weight="bold" font-size="7.8" fill="#111">S3</text>
<rect x="653.10" y="29.40" width="53.30" height="46.00" fill="#fff" stroke="#7c7c7c" stroke-width="0.8"/>
<line x1="655.20" y1="37.10" x2="681.40" y2="37.10" stroke="#606060" stroke-width="0.8"/>
<rect x="666.00" y="34.70" width="4.80" height="4.80" fill="#000"/>
<text x="687.20" y="39.70" font-family="'Liberation Serif', serif" font-weight="bold" font-size="8.2" fill="#111">S 1</text>
<line x1="655.20" y1="52.00" x2="681.40" y2="52.00" stroke="#ff6868" stroke-width="0.8"/>
<circle cx="668.40" cy="52.00" r="2.70" fill="#ff0000"/>
<text x="687.20" y="54.60" font-family="'Liberation Serif', serif" font-weight="bold" font-size="8.2" fill="#111">S 2</text>
<line x1="655.20" y1="66.40" x2="681.40" y2="66.40" stroke="#7070ff" stroke-width="0.8"/>
<path d="M668.40 63.16 L671.88 68.56 L664.92 68.56 Z" fill="#0000ff"/>
<text x="687.20" y="69.00" font-family="'Liberation Serif', serif" font-weight="bold" font-size="8.2" fill="#111">S 3</text>
<text transform="translate(24.3,134.8) rotate(-90)" text-anchor="middle" font-family="'Liberation Serif', serif" font-weight="bold" font-size="11.05" fill="#111">Contact angle (°)</text>
<text transform="translate(406.0,138.4) rotate(-90)" text-anchor="middle" font-family="'Liberation Serif', serif" font-weight="bold" font-size="10.4" fill="#111">Sliding angle (°)</text>
<text transform="translate(201.0,283.6) scale(1,1.08)" text-anchor="middle" font-family="'Liberation Serif', serif" font-weight="bold" font-size="10.8" fill="#111">Droplets volume (μL)</text>
<text transform="translate(579.5,283.0) scale(1,1.08)" text-anchor="middle" font-family="'Liberation Serif', serif" font-weight="bold" font-size="10.8" fill="#111">Droplets volume (μL)</text>
</svg>
</body></html>
